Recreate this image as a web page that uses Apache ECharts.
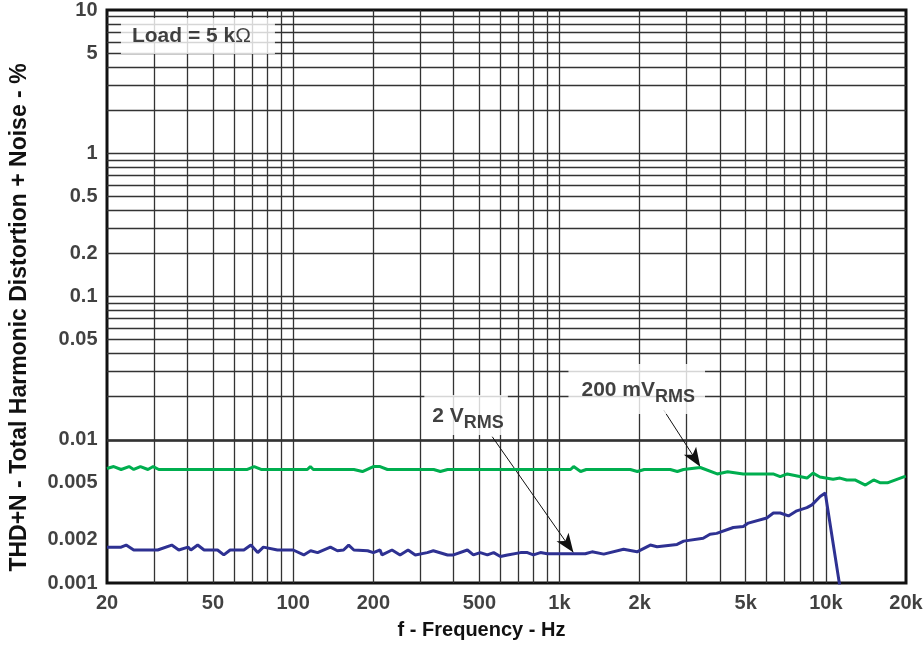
<!DOCTYPE html>
<html><head><meta charset="utf-8">
<script src="https://cdn.jsdelivr.net/npm/echarts@6/dist/echarts.min.js"></script>
<style>html,body{margin:0;padding:0;background:#fff}#c{width:923px;height:648px}</style>
</head><body><div id="c"></div>
<script>
const FONT = '"Liberation Sans", Arial, Helvetica, sans-serif';

const xTickValues = [20, 50, 100, 200, 500, 1000, 2000, 5000, 10000, 20000];
const xTickLabels = ['20', '50', '100', '200', '500', '1k', '2k', '5k', '10k', '20k'];
const yTickValues = [0.001, 0.002, 0.005, 0.01, 0.05, 0.1, 0.2, 0.5, 1, 5, 10];
const yTickLabels = ['0.001', '0.002', '0.005', '0.01', '0.05', '0.1', '0.2', '0.5', '1', '5', '10'];

const xGridValues = [30, 40, 50, 60, 70, 80, 90, 100, 200, 300, 400, 500, 600, 700, 800, 900,
  1000, 2000, 3000, 4000, 5000, 6000, 7000, 8000, 9000, 10000];
const yGridValues = [0.002, 0.003, 0.004, 0.005, 0.006, 0.007, 0.008, 0.009, 0.01,
  0.02, 0.03, 0.04, 0.05, 0.06, 0.07, 0.08, 0.09, 0.1,
  0.2, 0.3, 0.4, 0.5, 0.6, 0.7, 0.8, 0.9, 1,
  2, 3, 4, 5, 6, 7, 8, 9];

// 2 VRMS
const freq2V = [20, 22.6, 23.6, 25.2, 31, 35, 37.2, 40.3, 41.3, 43.8, 46.3, 52, 54.9, 58, 65.3, 69.4, 73.6, 77.3, 87.3, 100,
  109.6, 116.3, 123.5, 138, 146.6, 154.6, 161.6, 169, 190.4, 200, 212, 215.6, 235, 252, 270, 287.5, 318.7, 336, 380, 400,
  451, 475, 504, 536, 566, 600, 638, 714, 758, 798, 848, 900, 1250, 1325, 1466, 1740, 1955, 2193, 2325, 2763, 2925,
  3464, 3673, 3890, 4493, 4900, 5115, 6000, 6355, 6740, 7240, 7780, 8490, 8870, 9520, 9950, 11450];
const thd2V = [0.00178, 0.00178, 0.00184, 0.0017, 0.0017, 0.00184, 0.0017, 0.00178, 0.0017, 0.00184, 0.0017, 0.0017, 0.00157, 0.0017, 0.0017, 0.00184, 0.00163, 0.00178, 0.0017, 0.0017,
  0.00157, 0.00168, 0.00163, 0.00178, 0.00168, 0.0017, 0.00184, 0.0017, 0.00168, 0.00163, 0.0017, 0.00157, 0.0017, 0.00157, 0.0017, 0.00157, 0.00163, 0.00168, 0.00157, 0.00157,
  0.0017, 0.00157, 0.00163, 0.00157, 0.00163, 0.00153, 0.00157, 0.00163, 0.00163, 0.00157, 0.00163, 0.0016, 0.0016, 0.00165, 0.00159, 0.00172, 0.00165, 0.00184, 0.00179, 0.00186, 0.00196,
  0.00205, 0.00219, 0.00222, 0.00244, 0.00248, 0.00262, 0.00284, 0.00308, 0.00308, 0.00294, 0.00319, 0.00336, 0.00351, 0.00402, 0.00425, 0.0008];

// 200 mVRMS
const freq200mV = [20, 21.2, 22.6, 24.2, 25.2, 26.7, 28.5, 29.8, 31.3, 67.3, 71.4, 75.8, 113, 116, 119, 169, 182, 200, 212, 226,
  337, 357, 380, 1100, 1130, 1200, 1260, 1845, 1960, 2080, 2606, 2770, 2920, 3377, 3910, 4280, 4895, 6340, 6740, 7170,
  8500, 8950, 9500, 10650, 11300, 11980, 12860, 14080, 15120, 16040, 17030, 19950];
const thd200mV = [0.0063, 0.0065, 0.0062, 0.0065, 0.0062, 0.0065, 0.0062, 0.0065, 0.0062, 0.0062, 0.0065, 0.0062, 0.0062, 0.0065, 0.0062, 0.0062, 0.006, 0.0065, 0.0065, 0.0062,
  0.0062, 0.006, 0.0062, 0.0062, 0.0065, 0.006, 0.0062, 0.0062, 0.006, 0.0062, 0.0062, 0.006, 0.0062, 0.0064, 0.00577, 0.00598, 0.00577, 0.00577, 0.00552, 0.00577,
  0.0054, 0.00585, 0.0055, 0.0053, 0.0054, 0.00524, 0.00524, 0.00483, 0.00524, 0.005, 0.005, 0.00558];

const chart = echarts.init(document.getElementById('c'), null, {renderer: 'canvas'});

const TXT = '#111';
const tickLabelStyle = {fontFamily: FONT, fontWeight: 'bold', fontSize: 20, color: TXT};
const subRich = {
  a: {fontFamily: FONT, fontWeight: 'bold', fontSize: 21, lineHeight: 14, verticalAlign: 'top', color: TXT},
  b: {fontFamily: FONT, fontWeight: 'bold', fontSize: 18, lineHeight: 26, verticalAlign: 'bottom', color: TXT}
};

const option = {
  animation: false,
  backgroundColor: '#fff',
  grid: {left: 106, right: 17, top: 10, bottom: 65, show: true, borderColor: '#111', borderWidth: 3, backgroundColor: '#fff'},
  xAxis: {
    type: 'log', logBase: 10, min: 20, max: 20000,
    axisLine: {show: false}, axisTick: {show: false}, axisLabel: {show: false},
    splitLine: {show: false}, minorSplitLine: {show: false},
    name: 'f - Frequency - Hz', nameLocation: 'middle', nameGap: 37,
    nameTextStyle: {fontFamily: FONT, fontWeight: 'bold', fontSize: 20, color: TXT, padding: [0, 50, 0, 0]}
  },
  yAxis: {
    type: 'log', logBase: 10, min: 0.001, max: 10,
    axisLine: {show: false}, axisTick: {show: false}, axisLabel: {show: false},
    splitLine: {show: false}, minorSplitLine: {show: false},
    name: 'THD+N - Total Harmonic Distortion + Noise - %', nameLocation: 'middle', nameGap: 76,
    nameTextStyle: {fontFamily: FONT, fontWeight: 'bold', fontSize: 23, color: TXT, padding: [0, 42, 0, 0]}
  },
  series: [
    {
      type: 'line', data: [[20, 0.001]], symbol: 'none', lineStyle: {opacity: 0}, silent: true, z: 1,
      markLine: {
        silent: true, symbol: ['none', 'none'], label: {show: false}, emphasis: {disabled: true},
        lineStyle: {color: '#333', width: 1.3, type: 'solid'},
        data: xGridValues.map(v => ({xAxis: v})).concat(yGridValues.map(v => ({yAxis: v})))
      }
    },
    {
      name: '200 mVRMS', type: 'line', z: 5, symbol: 'none', clip: true,
      lineStyle: {color: '#00ae4f', width: 3}, itemStyle: {color: '#00ae4f'},
      data: freq200mV.map((f, i) => [f, thd200mV[i]])
    },
    {
      name: '2 VRMS', type: 'line', z: 5, symbol: 'none', clip: true,
      lineStyle: {color: '#2e3192', width: 3}, itemStyle: {color: '#2e3192'},
      data: freq2V.map((f, i) => [f, thd2V[i]])
    },
    {
      type: 'scatter', z: 10, clip: false, silent: true, symbolSize: 1,
      itemStyle: {color: 'rgba(0,0,0,0)'},
      data: [
        {value: [43.9, 6.58], label: {
          show: true, position: 'inside', backgroundColor: '#fff', padding: [8, 24, 8, 11],
          formatter: '{a|Load = 5 k}{o|\u03A9}',
          rich: {
            a: {fontFamily: FONT, fontWeight: 'bold', fontSize: 21, lineHeight: 20, color: TXT},
            o: {fontFamily: FONT, fontWeight: 'normal', fontSize: 21, lineHeight: 20, color: TXT}
          }
        }},
        {value: [1950, 0.0226], label: {
          show: true, position: 'inside', backgroundColor: '#fff', padding: [16, 10, 8, 13],
          formatter: '{a|200 mV}{b|RMS}', rich: subRich
        }},
        {value: [446, 0.0149], label: {
          show: true, position: 'inside', backgroundColor: '#fff', padding: [11, 4, 3, 8],
          formatter: '{a|2 V}{b|RMS}', rich: subRich
        }}
      ],
      markLine: {
        silent: true, symbol: ['none', 'arrow'], symbolSize: [11, 19], label: {show: false}, emphasis: {disabled: true},
        lineStyle: {color: '#111', width: 1, type: 'solid'}, itemStyle: {color: '#111'},
        data: [
          [{coord: [2461, 0.01613]}, {coord: [3377, 0.00648]}],
          [{coord: [559, 0.0105]}, {coord: [1128, 0.00163]}]
        ]
      }
    },
    {
      type: 'scatter', z: 10, clip: false, silent: true, symbolSize: 1,
      itemStyle: {color: 'rgba(0,0,0,0)'},
      data: xTickValues.map(v => [v, 0.001]),
      label: {show: true, position: 'bottom', distance: 10, formatter: p => xTickLabels[p.dataIndex], ...tickLabelStyle}
    },
    {
      type: 'scatter', z: 10, clip: false, silent: true, symbolSize: 1,
      itemStyle: {color: 'rgba(0,0,0,0)'},
      data: yTickValues.map(v => [20, v]),
      label: {show: true, position: 'left', distance: 9, formatter: p => yTickLabels[p.dataIndex], ...tickLabelStyle}
    }
  ]
};
chart.setOption(option);
</script>
</body></html>
